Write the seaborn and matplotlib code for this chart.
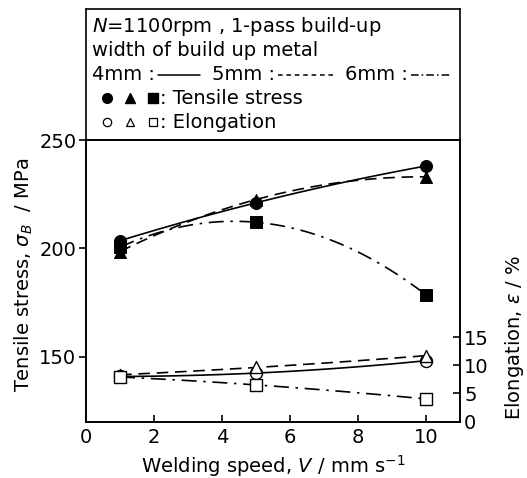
import numpy as np
import matplotlib
matplotlib.use("Agg")
import matplotlib.pyplot as plt
import seaborn as sns

# Data
speed = [1, 5, 10]
ts_4mm = [203.5, 221.0, 238.0]
ts_5mm = [198.5, 222.5, 233.0]
ts_6mm = [200.5, 212.0, 178.5]
el_4mm = [8.0, 8.6, 10.8]
el_5mm = [8.3, 9.6, 11.7]
el_6mm = [7.9, 6.5, 4.0]

x_ticks = [0, 2, 4, 6, 8, 10]
left_ticks = [150, 200, 250]
right_ticks = [0, 5, 10, 15]

sns.set_theme(style="ticks")
plt.rcParams['font.family'] = ['DejaVu Sans']
plt.rcParams['mathtext.fontset'] = 'dejavusans'
plt.rcParams['text.color'] = 'black'
plt.rcParams['axes.labelcolor'] = 'black'
plt.rcParams['xtick.color'] = 'black'
plt.rcParams['ytick.color'] = 'black'
fs = 14

W, H = 527, 478
fig = plt.figure(figsize=(W / 100, H / 100), dpi=100)

def fx(px):
    return px / W

def fy(py):
    return 1 - py / H

left, right, top_box, top_plot, bottom = 86, 460, 9, 140, 421.5
ax = fig.add_axes([fx(left), fy(bottom), fx(right - left), (bottom - top_plot) / H])
panel = fig.add_axes([fx(left), fy(top_plot), fx(right - left), (top_plot - top_box) / H])

lw = 1.2
dash = (7, 4)
dashdot = (9, 4, 1.5, 4)
styles = [(ts_4mm, el_4mm, 'o', (None, None)), (ts_5mm, el_5mm, '^', dash), (ts_6mm, el_6mm, 's', dashdot)]

ax2 = ax.twinx()

for ts, el, mk, ds in styles:
    line_kws = dict(color='black', lw=lw)
    if ds[0] is not None:
        line_kws['dashes'] = ds
    sns.regplot(x=speed, y=ts, order=2, ci=None, scatter=False, ax=ax, line_kws=line_kws)
    sns.regplot(x=speed, y=el, order=2, ci=None, scatter=False, ax=ax2, line_kws=line_kws)
    sns.scatterplot(x=speed, y=ts, marker=mk, s=75, color='black', edgecolor='black', ax=ax, zorder=5)
    sns.scatterplot(x=speed, y=el, marker=mk, s=75, facecolor='white', edgecolor='black',
                    linewidth=1, ax=ax2, zorder=5)

ax.set_xlim(0, 11)
ax.set_ylim(120, 250)
ax2.set_ylim(0, 50)
ax.set_xticks(x_ticks)
ax.set_yticks(left_ticks)
ax2.set_yticks(right_ticks)
ax.set_xlabel('')
ax.set_ylabel('')

for a in (ax, ax2, panel):
    for s in a.spines.values():
        s.set_linewidth(1.2)
        s.set_color('black')
        s.set_visible(True)

ax.tick_params(axis='x', direction='in', length=5, width=1.2, labelsize=fs, pad=5)
ax.tick_params(axis='y', direction='out', length=5, width=1.2, labelsize=fs, pad=2)
ax2.tick_params(axis='y', direction='in', length=5, width=1.2, labelsize=fs, pad=3)

fig.text(fx(273), fy(466), r'Welding speed, $V$ / mm s$^{-1}$', ha='center', va='center', fontsize=fs)
fig.text(fx(24), fy(275), r'Tensile stress, $\sigma_B$  / MPa', ha='center', va='center',
         rotation=90, fontsize=fs)
fig.text(fx(514), fy(337), r'Elongation, $\varepsilon$ / %', ha='center', va='center',
         rotation=90, fontsize=fs)

# Legend panel
panel.set_xlim(0, 1)
panel.set_ylim(0, 1)
panel.set_xticks([])
panel.set_yticks([])

def px_x(px):
    return (px - left) / (right - left)

def px_y(py):
    return (top_plot - py) / (top_plot - top_box)

panel.text(px_x(92), px_y(27), r'$N$=1100rpm , 1-pass build-up', va='center', fontsize=fs)
panel.text(px_x(92), px_y(50), 'width of build up metal', va='center', fontsize=fs)

# width line: label text followed by a line sample
renderer = fig.canvas.get_renderer()
yl = px_y(75)
xpos = 92
for lab, seg_len, dd in [('4mm :', 42, None), ('5mm :', 55, (3, 2.5)), ('6mm :', 40, (5, 2, 1, 2))]:
    t = panel.text(px_x(xpos), yl, lab, va='center', fontsize=fs)
    bb = t.get_window_extent(renderer)
    x0 = bb.x1 + 3
    kw = dict(color='black', lw=1.1)
    if dd is not None:
        kw['dashes'] = dd
    panel.plot([px_x(x0), px_x(x0 + seg_len)], [yl, yl], **kw)
    xpos = x0 + seg_len + 12

for mk, xp in zip(['o', '^', 's'], [107, 130, 153]):
    panel.plot(px_x(xp), px_y(98), marker=mk, ms=7, color='black', ls='none')
    panel.plot(px_x(xp), px_y(122), marker=mk, ms=6, mfc='white', mec='black', mew=0.9, ls='none')
panel.text(px_x(160), px_y(98), ': Tensile stress', va='center', fontsize=fs)
panel.text(px_x(160), px_y(122), ': Elongation', va='center', fontsize=fs)

fig.savefig('out.png', dpi=100)
